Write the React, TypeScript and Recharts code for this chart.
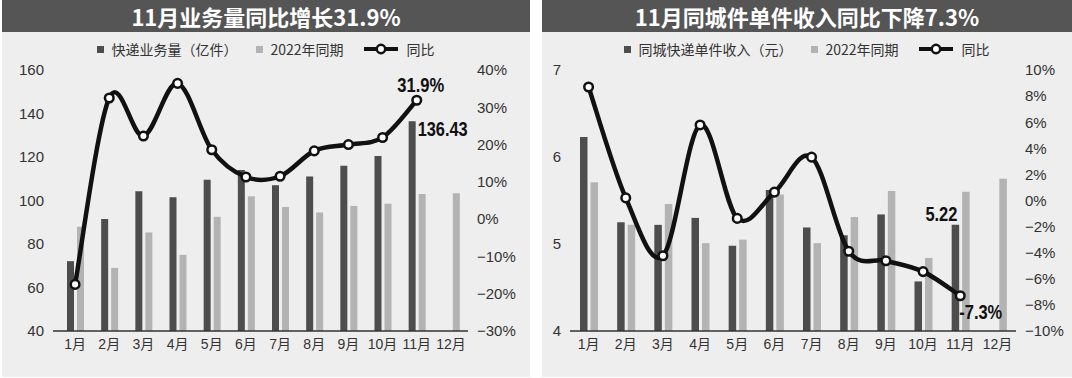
import { ComposedChart, Bar, Line, XAxis, YAxis, LabelList } from "recharts";

const MONTHS = ["1月", "2月", "3月", "4月", "5月", "6月", "7月", "8月", "9月", "10月", "11月", "12月"];

// 快递业务量（亿件）
const VOLUME = [72.1, 91.5, 104.3, 101.5, 109.5, 114, 107, 111, 116, 120.5, 136.43, null];
const VOLUME_2022 = [88, 69, 85.3, 75, 92.5, 102, 97, 94.5, 97.5, 98.5, 103, 103.3];
const VOLUME_YOY = [-17.5, 32.5, 22.3, 36.4, 18.6, 11.3, 11.5, 18.3, 20, 21.9, 31.9, null];
const VOLUME_TICKS = [40, 60, 80, 100, 120, 140, 160];
const VOLUME_YOY_TICKS = [-30, -20, -10, 0, 10, 20, 30, 40];

// 同城快递单件收入（元）
const INCOME = [6.23, 5.25, 5.22, 5.3, 4.98, 5.62, 5.19, 5.1, 5.34, 4.57, 5.22, null];
const INCOME_2022 = [5.71, 5.22, 5.46, 5.01, 5.05, 5.57, 5.01, 5.31, 5.61, 4.84, 5.6, 5.75];
const INCOME_YOY = [8.7, 0.2, -4.23, 5.79, -1.37, 0.64, 3.32, -3.89, -4.62, -5.45, -7.3, null];
const INCOME_TICKS = [4, 5, 6, 7];
const INCOME_YOY_TICKS = [-10, -8, -6, -4, -2, 0, 2, 4, 6, 8, 10];

const DARK = "#4d4d4d";
const LIGHT = "#b3b3b3";
const PANEL_BG = "#eeeeee";
const TITLE_BG = "#555555";
const TICK_FONT = "'Liberation Sans', Arial, 'Noto Sans CJK SC', sans-serif";
const CJK_FONT = "'Noto Sans CJK SC', 'Liberation Sans', sans-serif";

// catmull-rom style curve, like the smoothed line in the print chart
const smoothCurve = (context: any) => {
  let pts: [number, number][] = [];
  return {
    areaStart() {},
    areaEnd() {},
    lineStart() {
      pts = [];
    },
    lineEnd() {
      if (!pts.length) return;
      context.moveTo(pts[0][0], pts[0][1]);
      for (let i = 0; i < pts.length - 1; i++) {
        const p0 = pts[Math.max(i - 1, 0)];
        const p1 = pts[i];
        const p2 = pts[i + 1];
        const p3 = pts[Math.min(i + 2, pts.length - 1)];
        context.bezierCurveTo(
          p1[0] + (p2[0] - p0[0]) / 6,
          p1[1] + (p2[1] - p0[1]) / 6,
          p2[0] - (p3[0] - p1[0]) / 6,
          p2[1] - (p3[1] - p1[1]) / 6,
          p2[0],
          p2[1]
        );
      }
    },
    point(x: number, y: number) {
      pts.push([+x, +y]);
    },
  };
};

const pct = (v: number) => (v < 0 ? `\u2212${-v}%` : `${v}%`);

function LegendRow({ barName }: { barName: string }) {
  const text = { fontSize: 14, color: "#333", fontFamily: CJK_FONT };
  return (
    <div
      style={{
        position: "absolute",
        top: 40,
        left: 0,
        right: 0,
        height: 18,
        display: "flex",
        justifyContent: "center",
        alignItems: "center",
      }}
    >
      <div style={{ width: 7, height: 7, background: DARK, marginRight: 7 }} />
      <span style={text}>{barName}</span>
      <div style={{ width: 7, height: 7, background: LIGHT, marginLeft: 19, marginRight: 7 }} />
      <span style={text}>2022年同期</span>
      <svg width={34} height={14} style={{ marginLeft: 20, marginRight: 9 }}>
        <line x1={0} y1={7} x2={34} y2={7} stroke="#111" strokeWidth={4} />
        <circle cx={17} cy={7} r={4.2} fill="#fff" stroke="#111" strokeWidth={2.5} />
      </svg>
      <span style={text}>同比</span>
    </div>
  );
}

// narrow bold callout, squeezed to the width it has in print
function Callout({ x, y, w, anchor, children }: any) {
  return (
    <text
      x={x}
      y={y}
      textAnchor={anchor || "start"}
      textLength={w}
      lengthAdjust="spacingAndGlyphs"
      style={{ fontFamily: TICK_FONT, fontWeight: 700, fontSize: 20, fill: "#111" }}
    >
      {children}
    </text>
  );
}

interface PanelProps {
  left: number;
  width: number;
  title: string;
  barName: string;
  bars: (number | null)[];
  bars2022: number[];
  yoy: (number | null)[];
  leftTicks: number[];
  rightTicks: number[];
  leftWidth: number;
  rightWidth: number;
  xPadding: number;
  barSize: number;
  barLabel: (p: any) => any;
  yoyLabel: (p: any) => any;
}

function Panel(props: PanelProps) {
  const data = MONTHS.map((m, i) => ({
    month: m,
    cur: props.bars[i],
    prev: props.bars2022[i],
    yoy: props.yoy[i],
  }));
  const lt = props.leftTicks;
  const rt = props.rightTicks;
  return (
    <div
      style={{
        position: "absolute",
        left: props.left,
        top: 0,
        width: props.width,
        height: 377,
        background: PANEL_BG,
      }}
    >
      <div
        style={{
          height: 32,
          background: TITLE_BG,
          color: "#fff",
          fontFamily: CJK_FONT,
          fontWeight: 700,
          fontSize: 22,
          lineHeight: "32px",
          textAlign: "center",
        }}
      >
        {props.title}
      </div>
      <LegendRow barName={props.barName} />
      <ComposedChart
        width={props.width}
        height={345}
        data={data}
        margin={{ top: 38, right: 0, bottom: 16, left: 0 }}
        barSize={props.barSize}
        barGap={3}
      >
        <XAxis
          dataKey="month"
          height={30}
          tickLine={false}
          tickSize={0}
          tickMargin={8}
          padding={{ left: props.xPadding, right: 0 }}
          axisLine={{ stroke: "#333", strokeWidth: 1.5 }}
          tick={{ fontSize: 14, fill: "#333", fontFamily: TICK_FONT }}
          interval={0}
        />
        <YAxis
          yAxisId="l"
          width={props.leftWidth}
          domain={[lt[0], lt[lt.length - 1]]}
          ticks={lt}
          axisLine={false}
          tickLine={false}
          tickSize={0}
          tickMargin={9}
          tick={{ fontSize: 15, fill: "#333", fontFamily: TICK_FONT }}
        />
        <YAxis
          yAxisId="r"
          orientation="right"
          width={props.rightWidth}
          domain={[rt[0], rt[rt.length - 1]]}
          ticks={rt}
          tickFormatter={pct}
          axisLine={false}
          tickLine={false}
          tickSize={0}
          tickMargin={9}
          tick={{ fontSize: 15, fill: "#333", fontFamily: TICK_FONT }}
        />
        <Bar yAxisId="l" dataKey="cur" fill={DARK} isAnimationActive={false}>
          <LabelList dataKey="cur" content={props.barLabel} />
        </Bar>
        <Bar yAxisId="l" dataKey="prev" fill={LIGHT} isAnimationActive={false} />
        <Line
          yAxisId="r"
          dataKey="yoy"
          type={smoothCurve as any}
          stroke="#111"
          strokeWidth={4.5}
          dot={{ r: 4.3, fill: "#fff", stroke: "#111", strokeWidth: 2.5 }}
          isAnimationActive={false}
        >
          <LabelList dataKey="yoy" content={props.yoyLabel} />
        </Line>
      </ComposedChart>
    </div>
  );
}

export default function App() {
  return (
    <div
      style={{
        position: "absolute",
        left: 0,
        top: 0,
        width: 1072,
        height: 378,
        background: "#fff",
      }}
    >
      <Panel
        left={2}
        width={528}
        title="11月业务量同比增长31.9%"
        barName="快递业务量（亿件）"
        bars={VOLUME}
        bars2022={VOLUME_2022}
        yoy={VOLUME_YOY}
        leftTicks={VOLUME_TICKS}
        rightTicks={VOLUME_YOY_TICKS}
        leftWidth={51}
        rightWidth={62}
        xPadding={5}
        barSize={7}
        barLabel={(p: any) =>
          p.index === 10 ? (
            <Callout x={p.x + p.width + 2} y={p.y + 15} w={50}>
              {p.value}
            </Callout>
          ) : null
        }
        yoyLabel={(p: any) =>
          p.index === 10 ? (
            <Callout x={p.x + 4} y={p.y - 8} w={47} anchor="middle">
              {`${p.value}%`}
            </Callout>
          ) : null
        }
      />
      <Panel
        left={542}
        width={530}
        title="11月同城件单件收入同比下降7.3%"
        barName="同城快递单件收入（元）"
        bars={INCOME}
        bars2022={INCOME_2022}
        yoy={INCOME_YOY}
        leftTicks={INCOME_TICKS}
        rightTicks={INCOME_YOY_TICKS}
        leftWidth={28}
        rightWidth={56}
        xPadding={0}
        barSize={7.5}
        barLabel={(p: any) =>
          p.index === 10 ? (
            <Callout x={p.x + p.width / 2 - 14} y={p.y - 4} w={32} anchor="middle">
              {p.value}
            </Callout>
          ) : null
        }
        yoyLabel={(p: any) =>
          p.index === 10 ? (
            <Callout x={p.x - 1} y={p.y + 23} w={43}>
              {`${p.value}%`}
            </Callout>
          ) : null
        }
      />
    </div>
  );
}
